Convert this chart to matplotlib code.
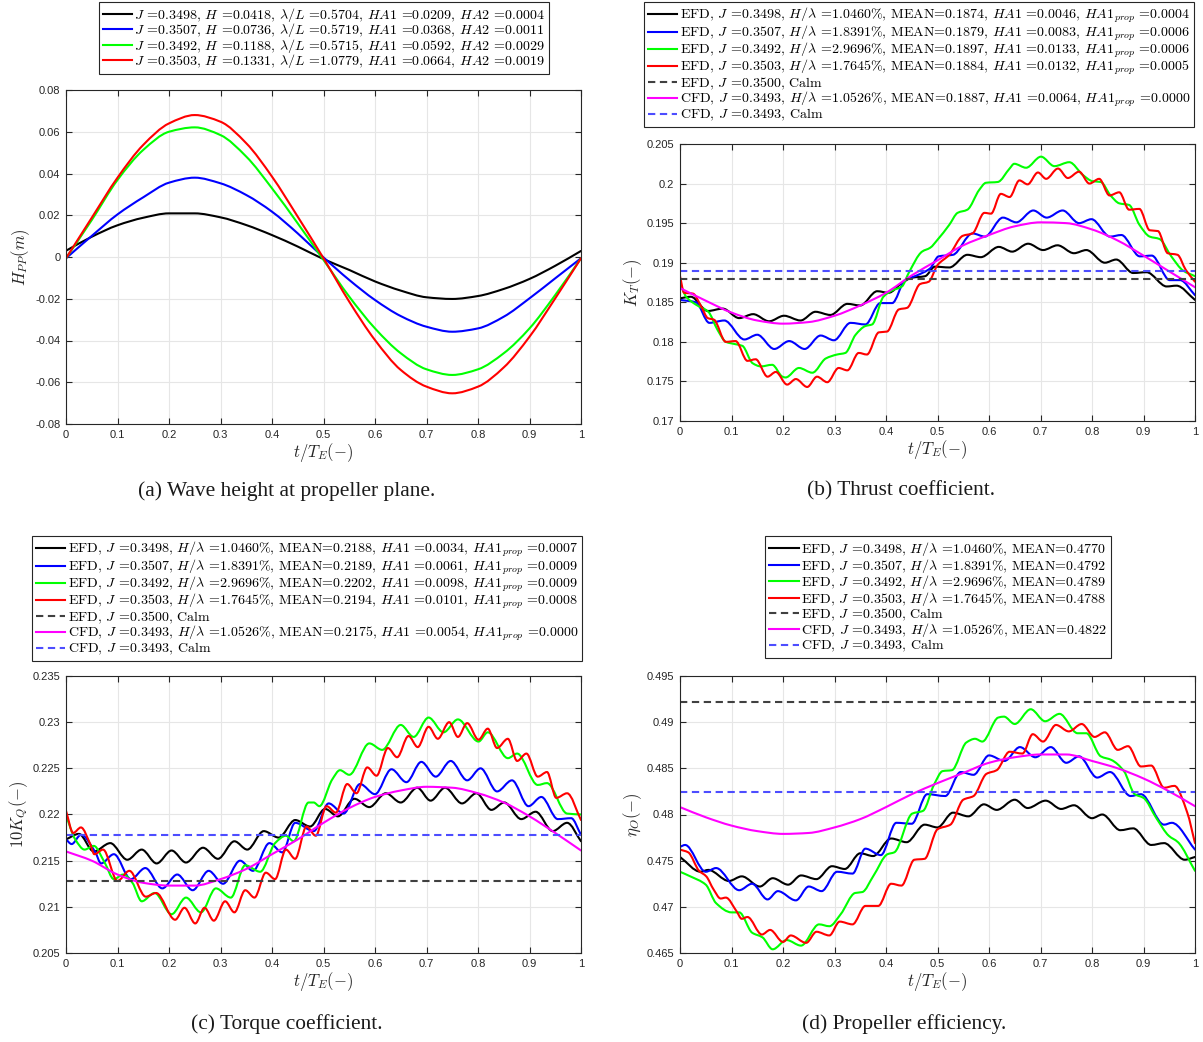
import numpy as np
import matplotlib
matplotlib.use("Agg")
import matplotlib.pyplot as plt
from matplotlib.ticker import FuncFormatter, MultipleLocator
from matplotlib.path import Path
from matplotlib.patches import PathPatch
from matplotlib.lines import Line2D

# ---------------- data ----------------
# (a) wave height at propeller plane
t_a = [0, 0.05, 0.1, 0.15, 0.2, 0.25, 0.3, 0.35, 0.4, 0.45, 0.5,
       0.55, 0.6, 0.65, 0.7, 0.75, 0.8, 0.85, 0.9, 0.95, 1.0]
hpp_1 = [0.0030, 0.0097, 0.0152, 0.0188, 0.0209, 0.0209, 0.0190, 0.0153, 0.0105, 0.0050, -0.0010,
         -0.0062, -0.0117, -0.0161, -0.0193, -0.0201, -0.0187, -0.0153, -0.0105, -0.0042, 0.0029]
hpp_2 = [-0.0006, 0.0101, 0.0204, 0.0286, 0.0356, 0.0380, 0.0353, 0.0297, 0.0217, 0.0113, -0.0002,
         -0.0110, -0.0206, -0.0283, -0.0334, -0.0358, -0.0342, -0.0286, -0.0198, -0.0102, -0.0006]
hpp_3 = [-0.0006, 0.0177, 0.0369, 0.0513, 0.0600, 0.0621, 0.0584, 0.0481, 0.0329, 0.0161, -0.0014,
         -0.0190, -0.0342, -0.0461, -0.0538, -0.0565, -0.0538, -0.0461, -0.0342, -0.0182, -0.0006]
hpp_4 = [-0.0006, 0.0188, 0.0380, 0.0537, 0.0640, 0.0680, 0.0648, 0.0545, 0.0385, 0.0193, -0.0006,
         -0.0214, -0.0398, -0.0541, -0.0621, -0.0653, -0.0621, -0.0529, -0.0382, -0.0198, -0.0006]
labels_a = [
    r"$J$ =0.3498, $H$ =0.0418, $\lambda/L$ =0.5704, $HA1$ =0.0209, $HA2$ =0.0004",
    r"$J$ =0.3507, $H$ =0.0736, $\lambda/L$ =0.5719, $HA1$ =0.0368, $HA2$ =0.0011",
    r"$J$ =0.3492, $H$ =0.1188, $\lambda/L$ =0.5715, $HA1$ =0.0592, $HA2$ =0.0029",
    r"$J$ =0.3503, $H$ =0.1331, $\lambda/L$ =1.0779, $HA1$ =0.0664, $HA2$ =0.0019",
]

# CFD curves share this grid
t_cfd = t_a

# (b) thrust coefficient
kt1_t = [0, 0.021, 0.054, 0.083, 0.115, 0.142, 0.173, 0.202, 0.234, 0.263, 0.292, 0.325, 0.35, 0.383,
         0.405, 0.43, 0.45, 0.476, 0.495, 0.523, 0.558, 0.584, 0.619, 0.645, 0.676, 0.705, 0.733,
         0.765, 0.789, 0.825, 0.847, 0.880, 0.906, 0.945, 0.964, 1.0]
kt1_v = [0.1855, 0.1857, 0.1839, 0.1842, 0.1830, 0.1835, 0.1826, 0.1833, 0.1827, 0.1838, 0.1834,
         0.1848, 0.1846, 0.1864, 0.1862, 0.1874, 0.1881, 0.1883, 0.1895, 0.1894, 0.1910, 0.1907,
         0.1920, 0.1914, 0.1924, 0.1916, 0.1922, 0.1912, 0.1916, 0.1900, 0.1904, 0.1887, 0.1888,
         0.1870, 0.1871, 0.1853]
kt2_t = [0, 0.031, 0.057, 0.086, 0.125, 0.150, 0.183, 0.212, 0.242, 0.273, 0.299, 0.331, 0.36, 0.389,
         0.412, 0.437, 0.46, 0.486, 0.502, 0.53, 0.568, 0.592, 0.627, 0.653, 0.686, 0.712, 0.743,
         0.775, 0.799, 0.835, 0.857, 0.893, 0.916, 0.951, 0.971, 1.0]
kt2_v = [0.1853, 0.1850, 0.1824, 0.1827, 0.1803, 0.1809, 0.1791, 0.1801, 0.1791, 0.1808, 0.1802,
         0.1824, 0.1822, 0.1849, 0.1849, 0.1878, 0.1884, 0.1893, 0.1908, 0.1910, 0.1937, 0.1933,
         0.1957, 0.1951, 0.1966, 0.1957, 0.1966, 0.1950, 0.1955, 0.1933, 0.1935, 0.1908, 0.1909,
         0.1878, 0.1878, 0.1859]
kt3_t = [0, 0.012, 0.031, 0.055, 0.073, 0.089, 0.108, 0.121, 0.141, 0.157, 0.179, 0.199, 0.205,
         0.231, 0.257, 0.283, 0.305, 0.321, 0.341, 0.36, 0.373, 0.395, 0.412, 0.431, 0.444, 0.47,
         0.486, 0.5, 0.523, 0.539, 0.558, 0.581, 0.594, 0.617, 0.640, 0.649, 0.672, 0.701, 0.727,
         0.756, 0.782, 0.801, 0.817, 0.836, 0.853, 0.872, 0.892, 0.912, 0.931, 0.954, 0.977, 1.0]
kt3_v = [0.1874, 0.1857, 0.1847, 0.1838, 0.1815, 0.1800, 0.1797, 0.1795, 0.1773, 0.1769, 0.1771,
         0.1756, 0.1755, 0.1767, 0.1761, 0.1779, 0.1784, 0.1786, 0.1809, 0.1820, 0.1822, 0.1857,
         0.1865, 0.1870, 0.1887, 0.1914, 0.1919, 0.1929, 0.1948, 0.1963, 0.1967, 0.1992, 0.2001,
         0.2002, 0.2019, 0.2025, 0.2020, 0.2034, 0.2022, 0.2027, 0.2011, 0.2003, 0.2002, 0.1985,
         0.1975, 0.1973, 0.1948, 0.1933, 0.1930, 0.1908, 0.1890, 0.1883]
kt4_t = [0, 0.008, 0.025, 0.041, 0.054, 0.066, 0.089, 0.108, 0.131, 0.147, 0.17, 0.186, 0.208, 0.225,
         0.247, 0.266, 0.286, 0.308, 0.325, 0.347, 0.363, 0.386, 0.402, 0.425, 0.441, 0.466, 0.483,
         0.5, 0.523, 0.549, 0.568, 0.591, 0.604, 0.623, 0.640, 0.659, 0.675, 0.695, 0.711, 0.734,
         0.753, 0.775, 0.795, 0.814, 0.834, 0.853, 0.872, 0.892, 0.912, 0.928, 0.947, 0.966, 0.982, 1.0]
kt4_v = [0.1883, 0.1862, 0.1861, 0.1845, 0.1830, 0.1828, 0.1800, 0.1801, 0.1776, 0.1778, 0.1756,
         0.1762, 0.1746, 0.1753, 0.1743, 0.1756, 0.1749, 0.1767, 0.1764, 0.1786, 0.1784, 0.1812,
         0.1813, 0.1841, 0.1843, 0.1873, 0.1876, 0.1897, 0.1910, 0.1934, 0.1937, 0.1963, 0.1962,
         0.1987, 0.1983, 0.2004, 0.1999, 0.2014, 0.2006, 0.2019, 0.2007, 0.2015, 0.2000, 0.2006,
         0.1985, 0.1989, 0.1967, 0.1968, 0.1941, 0.1940, 0.1912, 0.1910, 0.1891, 0.1876]
kt_cfd = [0.1868, 0.1852, 0.1837, 0.1827, 0.1823, 0.1825, 0.1833, 0.1846, 0.1862, 0.1884, 0.1903,
          0.1922, 0.1935, 0.1946, 0.1951, 0.1950, 0.1942, 0.1928, 0.1909, 0.1889, 0.1869]
kt_efd_calm = 0.1880
kt_cfd_calm = 0.1889
labels_b = [
    r"EFD, $J$ =0.3498, $H/\lambda$ =1.0460%, MEAN=0.1874, $HA1$ =0.0046, $HA1_{prop}$ =0.0004",
    r"EFD, $J$ =0.3507, $H/\lambda$ =1.8391%, MEAN=0.1879, $HA1$ =0.0083, $HA1_{prop}$ =0.0006",
    r"EFD, $J$ =0.3492, $H/\lambda$ =2.9696%, MEAN=0.1897, $HA1$ =0.0133, $HA1_{prop}$ =0.0006",
    r"EFD, $J$ =0.3503, $H/\lambda$ =1.7645%, MEAN=0.1884, $HA1$ =0.0132, $HA1_{prop}$ =0.0005",
    r"EFD, $J$ =0.3500, Calm",
    r"CFD, $J$ =0.3493, $H/\lambda$ =1.0526%, MEAN=0.1887, $HA1$ =0.0064, $HA1_{prop}$ =0.0000",
    r"CFD, $J$ =0.3493, Calm",
]

# (c) torque coefficient (10 KQ)
kq1_t = [0, 0.025, 0.054, 0.086, 0.119, 0.147, 0.176, 0.205, 0.233, 0.266, 0.295, 0.327, 0.352,
         0.384, 0.413, 0.445, 0.474, 0.503, 0.528, 0.560, 0.589, 0.621, 0.650, 0.682, 0.708, 0.736,
         0.769, 0.797, 0.826, 0.851, 0.884, 0.912, 0.945, 0.973, 1.0]
kq1_v = [0.2173, 0.2179, 0.2160, 0.2169, 0.2151, 0.2162, 0.2147, 0.2161, 0.2148, 0.2164, 0.2152,
         0.2171, 0.2162, 0.2182, 0.2175, 0.2194, 0.2187, 0.2206, 0.2198, 0.2217, 0.2208, 0.2223,
         0.2213, 0.2229, 0.2215, 0.2229, 0.2212, 0.2223, 0.2205, 0.2213, 0.2195, 0.2203, 0.2182,
         0.2191, 0.2171]
kq2_t = [0, 0.011, 0.029, 0.057, 0.068, 0.093, 0.126, 0.154, 0.187, 0.216, 0.246, 0.277, 0.305,
         0.338, 0.363, 0.395, 0.420, 0.445, 0.481, 0.510, 0.539, 0.571, 0.600, 0.632, 0.661, 0.690,
         0.718, 0.747, 0.779, 0.805, 0.837, 0.866, 0.898, 0.923, 0.955, 0.981, 1.0]
kq2_v = [0.2173, 0.2168, 0.2178, 0.2159, 0.2147, 0.2157, 0.2130, 0.2142, 0.2120, 0.2135, 0.2118,
         0.2139, 0.2125, 0.2150, 0.2139, 0.2169, 0.2159, 0.2191, 0.2182, 0.2212, 0.2201, 0.2233,
         0.2222, 0.2249, 0.2235, 0.2257, 0.2241, 0.2258, 0.2237, 0.2250, 0.2225, 0.2237, 0.2209,
         0.2219, 0.2195, 0.2196, 0.2178]
kq3_t = [0, 0.018, 0.036, 0.054, 0.075, 0.093, 0.111, 0.129, 0.147, 0.172, 0.205, 0.233, 0.262,
         0.291, 0.320, 0.348, 0.377, 0.406, 0.427, 0.442, 0.471, 0.481, 0.492, 0.517, 0.532, 0.550,
         0.589, 0.614, 0.650, 0.675, 0.704, 0.733, 0.761, 0.801, 0.819, 0.858, 0.876, 0.916, 0.934,
         0.973, 1.0]
kq3_v = [0.2199, 0.2173, 0.2162, 0.2166, 0.2148, 0.2130, 0.2135, 0.2126, 0.2106, 0.2115, 0.2092,
         0.2110, 0.2094, 0.2120, 0.2110, 0.2145, 0.2138, 0.2169, 0.2177, 0.2171, 0.2213, 0.2213,
         0.2209, 0.2238, 0.2248, 0.2243, 0.2277, 0.2270, 0.2297, 0.2284, 0.2305, 0.2289, 0.2303,
         0.2279, 0.2289, 0.2261, 0.2266, 0.2232, 0.2234, 0.2201, 0.2200]
kq4_t = [0, 0.014, 0.029, 0.047, 0.055, 0.072, 0.100, 0.123, 0.155, 0.175, 0.212, 0.230, 0.251,
         0.269, 0.287, 0.309, 0.327, 0.348, 0.366, 0.388, 0.406, 0.427, 0.445, 0.467, 0.485, 0.506,
         0.524, 0.546, 0.564, 0.585, 0.603, 0.625, 0.643, 0.665, 0.683, 0.704, 0.722, 0.744, 0.761,
         0.779, 0.801, 0.819, 0.837, 0.858, 0.876, 0.894, 0.916, 0.934, 0.952, 0.973, 1.0]
kq4_v = [0.2204, 0.2180, 0.2186, 0.2168, 0.2157, 0.2162, 0.2128, 0.2139, 0.2111, 0.2115, 0.2086,
         0.2099, 0.2082, 0.2099, 0.2085, 0.2106, 0.2094, 0.2118, 0.2110, 0.2137, 0.2130, 0.2162,
         0.2152, 0.2187, 0.2177, 0.2209, 0.2202, 0.2233, 0.2223, 0.2251, 0.2242, 0.2272, 0.2262,
         0.2285, 0.2273, 0.2295, 0.2282, 0.2300, 0.2284, 0.2299, 0.2281, 0.2293, 0.2272, 0.2282,
         0.2258, 0.2266, 0.2241, 0.2246, 0.2218, 0.2223, 0.2194]
kq_cfd = [0.2160, 0.2150, 0.2135, 0.2126, 0.2123, 0.2123, 0.2130, 0.2141, 0.2157, 0.2173, 0.2191,
          0.2207, 0.2219, 0.2226, 0.2230, 0.2229, 0.2223, 0.2213, 0.2198, 0.2180, 0.2161]
kq_efd_calm = 0.2128
kq_cfd_calm = 0.2178
labels_c = [
    r"EFD, $J$ =0.3498, $H/\lambda$ =1.0460%, MEAN=0.2188, $HA1$ =0.0034, $HA1_{prop}$ =0.0007",
    r"EFD, $J$ =0.3507, $H/\lambda$ =1.8391%, MEAN=0.2189, $HA1$ =0.0061, $HA1_{prop}$ =0.0009",
    r"EFD, $J$ =0.3492, $H/\lambda$ =2.9696%, MEAN=0.2202, $HA1$ =0.0098, $HA1_{prop}$ =0.0009",
    r"EFD, $J$ =0.3503, $H/\lambda$ =1.7645%, MEAN=0.2194, $HA1$ =0.0101, $HA1_{prop}$ =0.0008",
    r"EFD, $J$ =0.3500, Calm",
    r"CFD, $J$ =0.3493, $H/\lambda$ =1.0526%, MEAN=0.2175, $HA1$ =0.0054, $HA1_{prop}$ =0.0000",
    r"CFD, $J$ =0.3493, Calm",
]

# (d) propeller efficiency
eta1_t = [0, 0.04, 0.055, 0.095, 0.12, 0.155, 0.18, 0.21, 0.235, 0.265, 0.295, 0.32, 0.35, 0.375,
          0.41, 0.44, 0.475, 0.5, 0.53, 0.56, 0.59, 0.615, 0.65, 0.675, 0.71, 0.74, 0.765, 0.8,
          0.82, 0.855, 0.88, 0.915, 0.94, 0.98, 1.0]
eta1_v = [0.4754, 0.4738, 0.4740, 0.4728, 0.4733, 0.4722, 0.4731, 0.4724, 0.4734, 0.4730, 0.4744,
          0.4741, 0.4758, 0.4755, 0.4774, 0.4770, 0.4789, 0.4786, 0.4802, 0.4798, 0.4811, 0.4805,
          0.4816, 0.4807, 0.4815, 0.4806, 0.4810, 0.4796, 0.4800, 0.4783, 0.4785, 0.4767, 0.4769,
          0.4751, 0.4754]
eta2_t = [0, 0.01, 0.05, 0.07, 0.115, 0.14, 0.17, 0.19, 0.225, 0.25, 0.275, 0.305, 0.335, 0.36,
          0.39, 0.42, 0.45, 0.48, 0.515, 0.545, 0.57, 0.6, 0.63, 0.66, 0.69, 0.72, 0.75, 0.775,
          0.81, 0.835, 0.875, 0.895, 0.94, 0.955, 1.0]
eta2_v = [0.4765, 0.4767, 0.4738, 0.4742, 0.4718, 0.4725, 0.4708, 0.4717, 0.4707, 0.4722, 0.4717,
          0.4738, 0.4736, 0.4763, 0.4756, 0.4791, 0.4790, 0.4822, 0.4820, 0.4846, 0.4843, 0.4864,
          0.4858, 0.4873, 0.4862, 0.4873, 0.4856, 0.4863, 0.4840, 0.4846, 0.4820, 0.4822, 0.4789,
          0.4791, 0.4762]
eta3_t = [0, 0.02, 0.05, 0.07, 0.1, 0.115, 0.14, 0.16, 0.18, 0.207, 0.235, 0.27, 0.29, 0.312, 0.34,
          0.354, 0.375, 0.403, 0.416, 0.451, 0.472, 0.493, 0.51, 0.528, 0.556, 0.573, 0.587, 0.618,
          0.629, 0.65, 0.681, 0.709, 0.737, 0.772, 0.789, 0.817, 0.838, 0.862, 0.883, 0.9, 0.925,
          0.949, 0.967, 1.0]
eta3_v = [0.4738, 0.4733, 0.4724, 0.4704, 0.4694, 0.4694, 0.4672, 0.4667, 0.4654, 0.4664, 0.4658,
          0.4681, 0.4679, 0.4692, 0.4715, 0.4716, 0.4733, 0.4757, 0.4759, 0.4801, 0.4804, 0.4832,
          0.4847, 0.4848, 0.4878, 0.4882, 0.4879, 0.4905, 0.4906, 0.4898, 0.4914, 0.4901, 0.4909,
          0.4888, 0.4888, 0.4863, 0.4859, 0.4847, 0.4822, 0.4818, 0.4796, 0.4777, 0.4770, 0.4739]
eta4_t = [0, 0.016, 0.037, 0.051, 0.065, 0.079, 0.089, 0.11, 0.12, 0.131, 0.159, 0.175, 0.2, 0.215,
          0.245, 0.265, 0.29, 0.31, 0.335, 0.36, 0.385, 0.41, 0.43, 0.455, 0.475, 0.5, 0.525, 0.55,
          0.57, 0.595, 0.615, 0.64, 0.665, 0.685, 0.705, 0.73, 0.755, 0.78, 0.805, 0.825, 0.85,
          0.87, 0.895, 0.915, 0.94, 0.96, 0.985, 1.0]
eta4_v = [0.4762, 0.4759, 0.4739, 0.4733, 0.4719, 0.4709, 0.4710, 0.4695, 0.4687, 0.4689, 0.4670,
          0.4675, 0.4662, 0.4669, 0.4661, 0.4673, 0.4669, 0.4684, 0.4681, 0.4701, 0.4701, 0.4725,
          0.4723, 0.4751, 0.4752, 0.4784, 0.4789, 0.4816, 0.4820, 0.4844, 0.4848, 0.4868, 0.4866,
          0.4887, 0.4879, 0.4897, 0.4890, 0.4898, 0.4884, 0.4889, 0.4870, 0.4874, 0.4852, 0.4853,
          0.4829, 0.4831, 0.4802, 0.4769]
eta_cfd = [0.4808, 0.4797, 0.4788, 0.4782, 0.4779, 0.4780, 0.4786, 0.4795, 0.4808, 0.4822, 0.4834,
           0.4845, 0.4856, 0.4862, 0.4865, 0.4865, 0.4858, 0.4850, 0.4839, 0.4825, 0.4809]
eta_efd_calm = 0.4922
eta_cfd_calm = 0.4824
labels_d = [
    r"EFD, $J$ =0.3498, $H/\lambda$ =1.0460%, MEAN=0.4770",
    r"EFD, $J$ =0.3507, $H/\lambda$ =1.8391%, MEAN=0.4792",
    r"EFD, $J$ =0.3492, $H/\lambda$ =2.9696%, MEAN=0.4789",
    r"EFD, $J$ =0.3503, $H/\lambda$ =1.7645%, MEAN=0.4788",
    r"EFD, $J$ =0.3500, Calm",
    r"CFD, $J$ =0.3493, $H/\lambda$ =1.0526%, MEAN=0.4822",
    r"CFD, $J$ =0.3493, Calm",
]

captions = ["(a) Wave height at propeller plane.", "(b) Thrust coefficient.",
            "(c) Torque coefficient.", "(d) Propeller efficiency."]

# ---------------- style ----------------
plt.rcParams["mathtext.fontset"] = "cm"
plt.rcParams["font.family"] = ["Liberation Sans", "DejaVu Sans"]
plt.rcParams["axes.unicode_minus"] = False

W, H = 1203, 1042
INK = "#262626"
COLORS = ["#000000", "#0000ff", "#00ff00", "#ff0000"]
CALM_EFD = "#404040"
CALM_CFD = "#4d4dff"
MAGENTA = "#ff00ff"
LW = 1.5
DASH = (3.5, 2.2)

fig = plt.figure(figsize=(W / 100, H / 100), dpi=100)


def px_axes(l, t, r, b):
    return fig.add_axes([l / W, 1 - b / H, (r - l) / W, (b - t) / H])


def smooth_line(ax, t, v, color):
    # draw the read points as one smooth bezier path (flat tangents at the extremes)
    x = np.asarray(t, float)
    y = np.asarray(v, float)
    h = np.diff(x)
    d = np.diff(y) / h
    m = np.zeros_like(y)
    for i in range(1, len(y) - 1):
        if d[i - 1] * d[i] > 0:
            w1 = 2 * h[i] + h[i - 1]
            w2 = h[i] + 2 * h[i - 1]
            m[i] = (w1 + w2) / (w1 / d[i - 1] + w2 / d[i])
    m[0], m[-1] = d[0], d[-1]
    verts = [(x[0], y[0])]
    codes = [Path.MOVETO]
    for i in range(len(x) - 1):
        verts += [(x[i] + h[i] / 3, y[i] + m[i] * h[i] / 3),
                  (x[i + 1] - h[i] / 3, y[i + 1] - m[i + 1] * h[i] / 3),
                  (x[i + 1], y[i + 1])]
        codes += [Path.CURVE4] * 3
    ax.add_patch(PathPatch(Path(verts, codes), fill=False, edgecolor=color, lw=LW,
                           capstyle="round", joinstyle="round"))
    return Line2D([], [], color=color, lw=LW)


def style(ax, ylim, ystep, ylabel):
    ax.set_xlim(0, 1)
    ax.set_ylim(*ylim)
    ax.xaxis.set_major_locator(MultipleLocator(0.1))
    ax.yaxis.set_major_locator(MultipleLocator(ystep))
    fmt = FuncFormatter(lambda v, p: "0" if abs(v) < 1e-9 else f"{v:g}")
    ax.xaxis.set_major_formatter(fmt)
    ax.yaxis.set_major_formatter(fmt)
    ax.grid(True, color="#e6e6e6", lw=0.8)
    ax.set_axisbelow(True)
    ax.tick_params(direction="in", top=True, right=True, length=4, width=0.8,
                   labelsize=8, colors=INK, pad=4)
    for s in ax.spines.values():
        s.set_color(INK)
        s.set_linewidth(0.8)
    ax.set_xlabel(r"$t/T_E(-)$", fontsize=12, color=INK, labelpad=1)
    ax.set_ylabel(ylabel, fontsize=12, color=INK, labelpad=2)


def add_legend(ax, handles, labels, cx, top, spacing):
    leg = ax.legend(handles, labels, loc="upper center",
                    bbox_to_anchor=(cx / W, 1 - top / H), bbox_transform=fig.transFigure,
                    prop={"family": ["cmr10", "DejaVu Serif"], "size": 10.1},
                    frameon=True, fancybox=False, framealpha=1, edgecolor=INK,
                    handlelength=2.1, handletextpad=0.15, labelspacing=spacing,
                    borderpad=0.3, borderaxespad=0)
    leg.get_frame().set_linewidth(0.8)


def wave_panel(ax, curves, calm_efd, calm_cfd, cfd):
    hs = [smooth_line(ax, t, v, c) for (t, v), c in zip(curves, COLORS)]
    hs.append(ax.axhline(calm_efd, color=CALM_EFD, lw=LW, dashes=DASH))
    hs.append(smooth_line(ax, t_cfd, cfd, MAGENTA))
    hs.append(ax.axhline(calm_cfd, color=CALM_CFD, lw=LW, dashes=DASH))
    return hs


# (a)
ax_a = px_axes(66, 90, 581, 424)
ha = [smooth_line(ax_a, t_a, v, c) for v, c in zip([hpp_1, hpp_2, hpp_3, hpp_4], COLORS)]
style(ax_a, (-0.08, 0.08), 0.02, r"$H_{PP}(m)$")
add_legend(ax_a, ha, labels_a, 324, 2, -0.2)

# (b)
ax_b = px_axes(680, 144, 1195, 421)
hb = wave_panel(ax_b, [(kt1_t, kt1_v), (kt2_t, kt2_v), (kt3_t, kt3_v), (kt4_t, kt4_v)],
                kt_efd_calm, kt_cfd_calm, kt_cfd)
style(ax_b, (0.17, 0.205), 0.005, r"$K_T(-)$")
add_legend(ax_b, hb, labels_b, 919, 2, -0.14)

# (c)
ax_c = px_axes(66, 676, 581, 953)
hc = wave_panel(ax_c, [(kq1_t, kq1_v), (kq2_t, kq2_v), (kq3_t, kq3_v), (kq4_t, kq4_v)],
                kq_efd_calm, kq_cfd_calm, kq_cfd)
style(ax_c, (0.205, 0.235), 0.005, r"$10K_Q(-)$")
add_legend(ax_c, hc, labels_c, 307, 536, -0.14)

# (d)
ax_d = px_axes(680, 676, 1195, 953)
hd = wave_panel(ax_d, [(eta1_t, eta1_v), (eta2_t, eta2_v), (eta3_t, eta3_v), (eta4_t, eta4_v)],
                eta_efd_calm, eta_cfd_calm, eta_cfd)
style(ax_d, (0.465, 0.495), 0.005, r"$\eta_O(-)$")
add_legend(ax_d, hd, labels_d, 938, 536, -0.1)

# captions
for (x, y), txt in zip([(287, 491), (901, 491), (287, 1024), (904, 1024)], captions):
    fig.text(x / W, 1 - y / H, txt, ha="center", va="center",
             family=["Liberation Serif", "DejaVu Serif"], size=15.4, color="#1a1a1a")

fig.savefig("out.png", dpi=100)
